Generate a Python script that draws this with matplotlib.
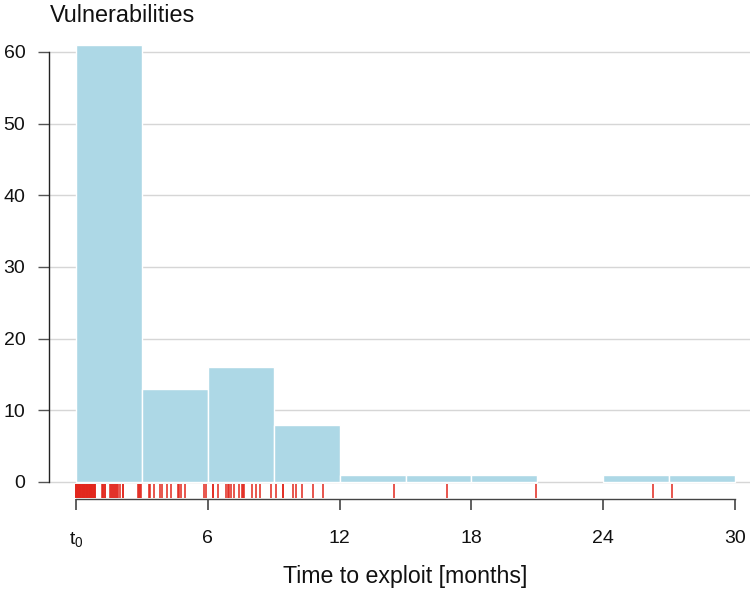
import numpy as np
import matplotlib
matplotlib.use("Agg")
import matplotlib.pyplot as plt
from matplotlib import font_manager

plt.rcParams['font.family'] = ['Liberation Sans', 'DejaVu Sans']
plt.rcParams['mathtext.fontset'] = 'custom'

installed = {f.name for f in font_manager.fontManager.ttflist}
tick_family = 'Liberation Sans Narrow' if 'Liberation Sans Narrow' in installed else 'Liberation Sans'
plt.rcParams['mathtext.rm'] = tick_family
plt.rcParams['mathtext.it'] = tick_family

# Months from disclosure until an exploit appeared, one entry per vulnerability
exploit_months = [
    0.0, 0.02, 0.05, 0.07, 0.1, 0.12, 0.15, 0.18, 0.2, 0.22,
    0.25, 0.28, 0.3, 0.33, 0.35, 0.38, 0.4, 0.42, 0.45, 0.48,
    0.5, 0.52, 0.55, 0.58, 0.6, 0.62, 0.65, 0.68, 0.7, 0.72,
    0.75, 0.77, 0.8, 0.82, 0.85, 0.87, 0.0, 0.1, 0.3, 0.5,
    1.18, 1.22, 1.25, 1.3, 1.32,
    1.55, 1.6, 1.62, 1.68, 1.72, 1.78, 1.82, 1.88, 1.92, 2.0,
    2.14, 2.16,
    2.82, 2.86, 2.92, 2.96,
    3.32, 3.35, 3.55, 3.82, 3.91, 4.14, 4.32, 4.64, 4.7, 4.78,
    4.96, 5.83, 5.92,
    6.22, 6.22, 6.48, 6.83, 6.9, 6.97, 7.04, 7.21, 7.42, 7.54,
    7.6, 7.66, 8.03, 8.18, 8.37, 8.88,
    9.10, 9.41, 9.41, 9.86, 10.0, 10.3, 10.77, 11.23,
    14.47, 16.9, 20.94, 26.26, 27.13,
]
bin_edges = [0, 3, 6, 9, 12, 15, 18, 21, 24, 27, 30]
x_ticks = [0, 6, 12, 18, 24, 30]
x_tick_labels = [r'$\mathrm{t}_0$', '6', '12', '18', '24', '30']
y_ticks = [0, 10, 20, 30, 40, 50, 60]

W, H = 754, 592
fig = plt.figure(figsize=(W / 100, H / 100), dpi=100)

# axes box in pixels: left, right, bottom, top
L, R, B, T = 49, 750, 499, 40
ax = fig.add_axes([L / W, 1 - B / H, (R - L) / W, (B - T) / H])

# x: 0 -> px 76, 30 -> px 735 ; y: 0 -> px 482, 60 -> px 52
xs = (735 - 76) / 30.0
ys = (482 - 52) / 60.0
ax.set_xlim(-(76 - L) / xs, 30 + (R - 735) / xs)
ax.set_ylim(-(B - 482) / ys, (482 - T) / ys)

for y in y_ticks:
    ax.axhline(y, color='#d6d6d6', lw=1.0, zorder=0)

# histogram bars; empty bins are left undrawn so the baseline grid shows
counts, edges = np.histogram(exploit_months, bins=bin_edges)
edges = np.asarray(edges, dtype=float)
keep = counts > 0
ax.bar(edges[:-1][keep], counts[keep], width=np.diff(edges)[keep], align='edge',
       color='#add8e6', edgecolor='white', linewidth=1.0, zorder=2)

# rug of individual exploit times
ax.vlines(exploit_months, -(498 - 482) / ys, -(484 - 482) / ys,
          color='#e2271d', lw=1.1, zorder=3)

for s in ['top', 'right']:
    ax.spines[s].set_visible(False)
ax.spines['left'].set_bounds(0, 60)
ax.spines['bottom'].set_bounds(0, 30)
ax.spines['left'].set_color('#222222')
ax.spines['bottom'].set_color('#444444')
ax.spines['left'].set_linewidth(1.0)
ax.spines['bottom'].set_linewidth(1.0)

ax.set_yticks(y_ticks)
ax.set_xticks(x_ticks)
ax.set_xticklabels(x_tick_labels)
ax.tick_params(axis='y', length=8, width=1.0, color='#555555', pad=9,
               labelsize=14, labelcolor='#111111')
ax.tick_params(axis='x', length=8, width=1.2, color='#444444', pad=14.5,
               labelsize=14, labelcolor='#111111')
for lab in ax.get_xticklabels() + ax.get_yticklabels():
    lab.set_family(tick_family)

fig.text(50 / W, 1 - 15 / H, 'Vulnerabilities', fontsize=16.8,
         color='#111111', ha='left', va='center')
fig.text(405 / W, 1 - 576 / H, 'Time to exploit [months]', fontsize=16.7,
         color='#111111', ha='center', va='center')

fig.savefig('out.png', dpi=100)
